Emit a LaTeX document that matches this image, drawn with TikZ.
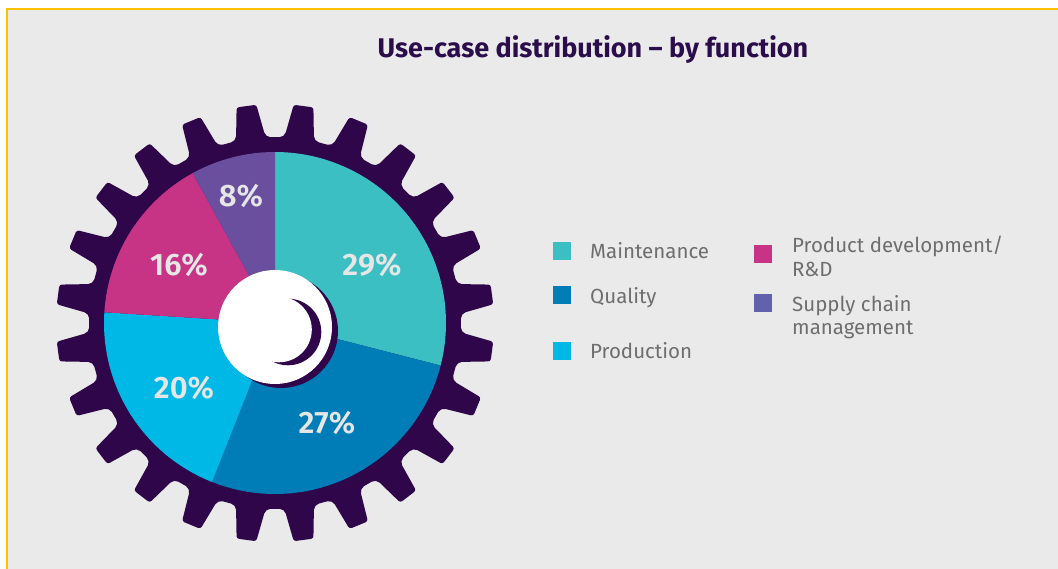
\documentclass[tikz,border=0pt]{standalone}
\usepackage{fontspec}
\setmainfont{Fira Sans}
\newfontfamily\pctfont{Fira Sans SemiBold}
\usetikzlibrary{calc}
\definecolor{panel}{HTML}{EAEAEA}
\definecolor{frame}{HTML}{FFC000}
\definecolor{gear}{HTML}{2E0649}
\definecolor{titlec}{HTML}{2B0D4B}
\definecolor{mntc}{HTML}{3BBFC2}
\definecolor{qlyc}{HTML}{007DB6}
\definecolor{prdc}{HTML}{00B8E6}
\definecolor{rndc}{HTML}{C73486}
\definecolor{scmc}{HTML}{6A4F9E}
\definecolor{scmkey}{HTML}{6161AC}
\definecolor{lblc}{HTML}{6E6E6E}
\definecolor{pctc}{HTML}{E6E6E6}

\begin{document}
\begin{tikzpicture}[x=1pt,y=-1pt,
  key/.style={minimum size=18pt,inner sep=0pt,fill=#1},
  lbl/.style={anchor=base west,inner sep=0pt,align=left,text=lblc,font=\fontsize{20.5}{24}\selectfont},
  pct/.style={anchor=base,inner sep=0pt,text=pctc,font=\fontsize{31}{31}\pctfont}]
\useasboundingbox (0,0) rectangle (1058,569);
\fill[white] (0,0) rectangle (1058,569);
\fill[panel] (7,9) rectangle (1058,569);
\draw[frame,line width=2pt] (7,569) -- (7,9) -- (1058,9);

\node[anchor=base,inner sep=0pt,text=titlec,font=\fontsize{27}{27}\selectfont\bfseries] (title) at (593,58) {Use-case distribution -- by function};

\coordinate (c) at (275,323);
\begin{scope}[shift={(c)}]
  \fill[gear,rounded corners=5pt] (0:186) \foreach \a in {7.5,22.5,...,352.5}{ -- (\a-4.6:186) [rounded corners=2.5pt] -- (\a-2.6:219) -- (\a+2.6:219) [rounded corners=5pt] -- (\a+4.6:186) } -- cycle;
  \fill[mntc] (0,0) -- (- 90.0:171) arc (- 90.0: 14.4:171) -- cycle;
  \fill[qlyc] (0,0) -- (  14.4:171) arc (  14.4:111.6:171) -- cycle;
  \fill[prdc] (0,0) -- ( 111.6:171) arc ( 111.6:183.6:171) -- cycle;
  \fill[rndc] (0,0) -- ( 183.6:171) arc ( 183.6:241.2:171) -- cycle;
  \fill[scmc] (0,0) -- ( 241.2:171) arc ( 241.2:270.0:171) -- cycle;
\end{scope}

\coordinate (hub) at (275,327);
\fill[gear]  ($(hub)+(6,4)$) circle (57);
\fill[white] (hub) circle (57);
\fill[gear]  (288,332) circle (33.3);
\fill[white] (279,329.5) circle (32.8);

\node[pct] (mnt) at (372,276) {29\%};
\node[pct] (qly) at (327,433) {27\%};
\node[pct] (prd) at (184,399) {20\%};
\node[pct] (rnd) at (179,276) {16\%};
\node[pct] (scm) at (241,207) {8\%};

\node[key=mntc]   (keyMnt) at (562,251.0) {};
\node[key=qlyc]   (keyQly) at (562,295.5) {};
\node[key=prdc]   (keyPrd) at (562,351.0) {};
\node[key=rndc]   (keyRnd) at (763,254.5) {};
\node[key=scmkey] (keyScm) at (763,303.0) {};

\node[lbl] (txtMnt) at (590,259) {Maintenance};
\node[lbl] (txtQly) at (590,303.5) {Quality};
\node[lbl] (txtPrd) at (590,359) {Production};
\node[lbl] (txtRnd) at (792,277) {Product development/\\R\&D};
\node[lbl] (txtScm) at (792,335) {Supply chain\\management};
\end{tikzpicture}
\end{document}
